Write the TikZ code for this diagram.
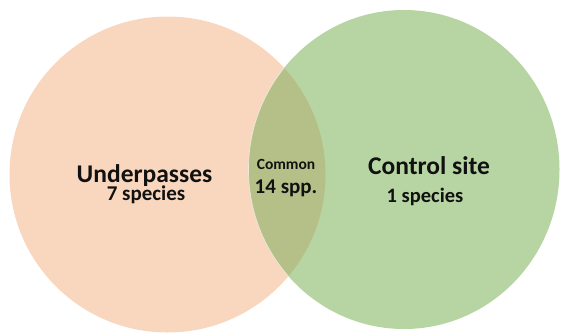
\documentclass[tikz,border=0pt]{standalone}
\usepackage{fontspec}
\setmainfont{Carlito}
\definecolor{peach}{RGB}{248,215,190}
\definecolor{leaf}{RGB}{183,213,163}
\definecolor{olive}{RGB}{180,192,136}
\definecolor{ink}{RGB}{17,17,17}
\tikzset{
  lbl/.style={anchor=base, text=ink, inner sep=0pt, font=\bfseries},
}
\begin{document}
\begin{tikzpicture}[x=1pt,y=-1pt]
\useasboundingbox (0,0) rectangle (561,332);
\fill[peach] (167.5,174.5) circle[radius=158];
\fill[leaf] (404,169.5) ellipse[x radius=155.5, y radius=159.5];
\begin{scope}
  \clip (167.5,174.5) circle[radius=158];
  \fill[olive] (404,169.5) ellipse[x radius=155.5, y radius=159.5];
  \draw[white, opacity=0.6, line width=0.7pt] (404,169.5) ellipse[x radius=155.5, y radius=159.5];
\end{scope}
\node[lbl, font=\bfseries\fontsize{25.5}{28}\selectfont] (under) at (144.5,182) {Underpasses};
\node[lbl, font=\bfseries\fontsize{21}{24}\selectfont] (unum) at (146,200) {7 species};
\node[lbl, font=\bfseries\fontsize{25.5}{28}\selectfont] (ctrl) at (429,174) {Control site};
\node[lbl, font=\bfseries\fontsize{20.5}{24}\selectfont] (cnum) at (425,202) {1 species};
\node[lbl, font=\bfseries\fontsize{15.5}{18}\selectfont] (comm) at (286,169) {Common};
\node[lbl, font=\bfseries\fontsize{21}{24}\selectfont] (cspp) at (286,193) {14 spp.};
\end{tikzpicture}
\end{document}
